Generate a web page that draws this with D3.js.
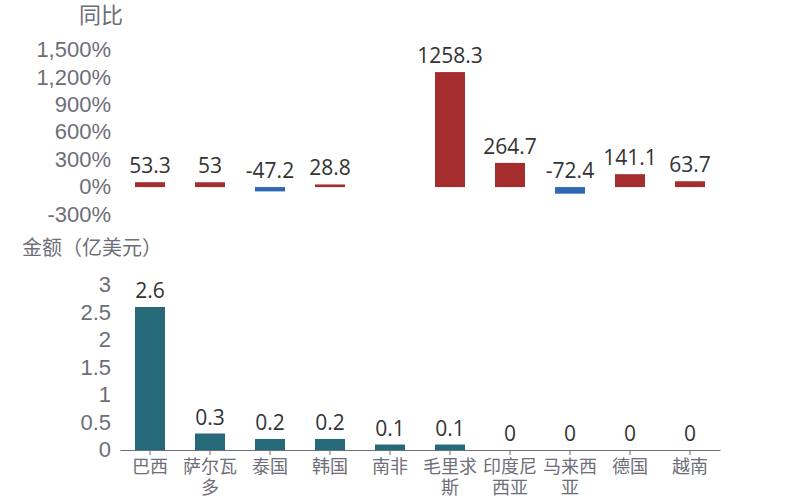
<!DOCTYPE html>
<html>
<head>
<meta charset="utf-8">
<script src="https://cdn.jsdelivr.net/npm/d3@7"></script>
<style>
  body { margin: 0; background: #fff; }
  svg { font-family: "Open Sans", "Noto Sans CJK SC", sans-serif; }
</style>
</head>
<body>
<div id="chart"></div>
<script>
// categories and values
const categories = ['巴西', '萨尔瓦多', '泰国', '韩国', '南非', '毛里求斯', '印度尼西亚', '马来西亚', '德国', '越南'];
const yoy = [53.3, 53, -47.2, 28.8, null, 1258.3, 264.7, -72.4, 141.1, 63.7];
const amount = [2.6, 0.3, 0.2, 0.2, 0.1, 0.1, 0, 0, 0, 0];
const yoyTicks = [-300, 0, 300, 600, 900, 1200, 1500];
const amountTicks = [0, 0.5, 1, 1.5, 2, 2.5, 3];

const width = 800, height = 500;
const axisGray = '#6e6e78';
const labelDark = '#333';

const svg = d3.select('#chart').append('svg')
    .attr('width', width)
    .attr('height', height);

const x = d3.scaleBand()
    .domain(categories)
    .range([120, 720])
    .paddingInner(0.5)
    .paddingOuter(0.25);

// --- top: 同比 ---
const yTop = d3.scaleLinear().domain([-300, 1500]).range([214.5, 50]);

svg.append('text')
    .attr('x', 123).attr('y', 15)
    .attr('dy', '0.35em')
    .attr('text-anchor', 'end')
    .attr('fill', axisGray)
    .attr('font-size', '22px')
    .text('同比');

const fmtPct = d => d3.format(',')(d).replace('−', '-') + '%';
const gTop = svg.append('g')
    .attr('transform', 'translate(120,0)')
    .call(d3.axisLeft(yTop).tickValues(yoyTicks).tickSize(0).tickPadding(9)
        .tickFormat(fmtPct));
gTop.select('.domain').remove();
gTop.selectAll('text')
    .attr('fill', axisGray)
    .attr('font-size', '22px')
    .attr('dy', '0.3em');

categories.forEach((c, i) => {
    const v = yoy[i];
    if (v == null) return;
    svg.append('rect')
        .attr('x', x(c))
        .attr('width', x.bandwidth())
        .attr('y', yTop(Math.max(0, v)))
        .attr('height', Math.abs(yTop(v) - yTop(0)))
        .attr('fill', v >= 0 ? '#a52d2e' : '#2f69b3');
    svg.append('text')
        .attr('x', x(c) + x.bandwidth() / 2)
        .attr('y', Math.min(yTop(v), yTop(0)) - 9)
        .attr('text-anchor', 'middle')
        .attr('fill', labelDark)
        .attr('font-size', '21px')
        .text(v);
});

// --- bottom: 金额 ---
const yBot = d3.scaleLinear().domain([0, 3]).range([450, 285]);

svg.append('text')
    .attr('x', 22).attr('y', 248)
    .attr('dy', '0.35em')
    .attr('fill', axisGray)
    .attr('font-size', '20px')
    .text('金额（亿美元）');

const gLeft = svg.append('g')
    .attr('transform', 'translate(120,0)')
    .call(d3.axisLeft(yBot).tickValues(amountTicks).tickSize(0).tickPadding(9)
        .tickFormat(d => d));
gLeft.select('.domain').remove();
gLeft.selectAll('text')
    .attr('fill', axisGray)
    .attr('font-size', '22px')
    .attr('dy', '0.3em');

svg.selectAll('.amt-bar')
    .data(categories)
    .join('rect')
    .attr('class', 'amt-bar')
    .attr('x', d => x(d))
    .attr('width', x.bandwidth())
    .attr('y', (d, i) => yBot(amount[i]))
    .attr('height', (d, i) => yBot(0) - yBot(amount[i]))
    .attr('fill', '#266a7a');

svg.selectAll('.amt-label')
    .data(categories)
    .join('text')
    .attr('class', 'amt-label')
    .attr('x', d => x(d) + x.bandwidth() / 2)
    .attr('y', (d, i) => yBot(amount[i]) - 9)
    .attr('text-anchor', 'middle')
    .attr('fill', labelDark)
    .attr('font-size', '21px')
    .text((d, i) => amount[i]);

const xAxis = d3.scaleBand().domain(categories).range([120, 720]);
const gBottom = svg.append('g')
    .attr('transform', 'translate(0,450)')
    .call(d3.axisBottom(xAxis).tickSize(5).tickSizeOuter(0).tickFormat(''));
gBottom.select('.domain').attr('stroke', axisGray);
gBottom.selectAll('.tick line').attr('stroke', axisGray);

// category labels, wrapped at 3 characters
categories.forEach(c => {
    const lines = [];
    for (let k = 0; k < c.length; k += 3) lines.push(c.slice(k, k + 3));
    const t = svg.append('text')
        .attr('text-anchor', 'middle')
        .attr('fill', axisGray)
        .attr('font-size', '18px')
        .attr('font-family', '"Noto Sans CJK SC", sans-serif');
    lines.forEach((ln, j) => {
        t.append('tspan')
            .attr('x', xAxis(c) + xAxis.bandwidth() / 2)
            .attr('y', 467 + j * 21)
            .attr('dy', '0.35em')
            .text(ln);
    });
});
</script>
</body>
</html>
